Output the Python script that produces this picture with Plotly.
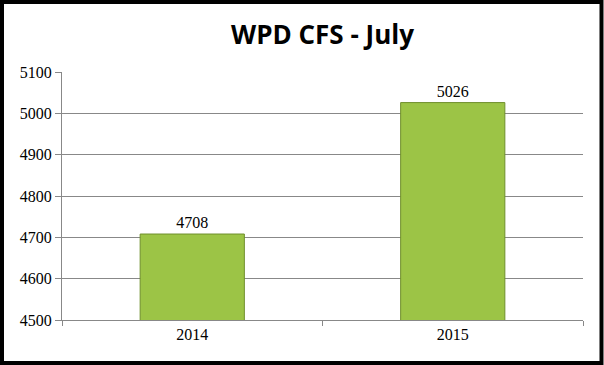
import plotly.graph_objects as go

categories = ["2014", "2015"]
values = [4708, 5026]
y_ticks = [4500, 4600, 4700, 4800, 4900, 5000, 5100]

W, H = 604, 365
L, R, T, B = 62, 21, 72, 45
pw, ph = W - L - R, H - T - B

def px_x(p):
    return (p - L) / pw

def px_y(p):
    return (H - B - p) / ph

SERIF = "Liberation Serif, DejaVu Serif, serif"

fig = go.Figure(go.Bar(
    x=categories, y=values, width=0.4,
    marker=dict(color="#9cc446", line=dict(color="#6f8f2c", width=1)),
    text=[str(v) for v in values], textposition="outside",
    textfont=dict(family=SERIF, size=16, color="#000"),
    cliponaxis=False,
))

fig.update_layout(
    width=W, height=H,
    margin=dict(l=L, r=R, t=T, b=B),
    paper_bgcolor="white", plot_bgcolor="white",
    title=dict(text="<b>WPD CFS - July</b>", x=0.5, xref="paper", xanchor="center",
               y=1 - 35 / H, yanchor="middle",
               font=dict(family="Open Sans, Noto Sans, sans-serif", size=26, color="#000")),
    showlegend=False,
    shapes=[dict(type="rect", xref="paper", yref="paper",
                 x0=px_x(2), x1=px_x(W - 2.5), y0=px_y(H - 2), y1=px_y(2),
                 line=dict(color="black", width=4), layer="above")],
)
fig.update_xaxes(showline=True, linecolor="#888", linewidth=1, ticks="outside",
                 tickson="boundaries", ticklen=5, tickcolor="#888",
                 tickfont=dict(family=SERIF, size=16, color="#000"),
                 showgrid=False)
fig.update_yaxes(range=[4500, 5100], tickvals=y_ticks, showline=True, linecolor="#888",
                 linewidth=1, ticks="outside", ticklen=6, tickcolor="#888",
                 showgrid=True, gridcolor="#888", gridwidth=1, zeroline=False,
                 tickfont=dict(family=SERIF, size=16, color="#000"))

fig.write_html("out.html", config={"displayModeBar": False},
               post_script="document.body.style.margin='0';document.body.style.overflow='hidden';")
